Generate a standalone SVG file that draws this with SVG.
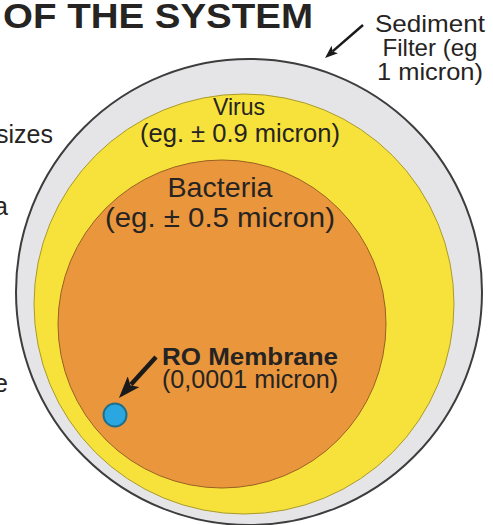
<svg xmlns="http://www.w3.org/2000/svg" width="493" height="525" viewBox="0 0 493 525">
<style>
text{font-family:"Liberation Sans",Arial,Helvetica,sans-serif;fill:#262422}
.t{font-size:25px}
.c{text-anchor:middle}
.e{text-anchor:end}
.b{font-weight:bold}
</style>
<defs>
<marker id="headBig" viewBox="0 0 22 16" refX="4" refY="8" markerWidth="22" markerHeight="16" markerUnits="userSpaceOnUse" orient="auto">
<path d="M0,0 L22,8 L0,16 L5,8 z" fill="#1a1a1a"/>
</marker>
<marker id="headSmall" viewBox="0 0 13 10" refX="3" refY="5" markerWidth="13" markerHeight="10" markerUnits="userSpaceOnUse" orient="auto">
<path d="M0,0 L13,5 L0,10 L3,5 z" fill="#1a1a1a"/>
</marker>
</defs>
<rect width="493" height="525" fill="#ffffff"/>
<g id="title">
<text x="3" y="28" class="b" font-size="35" textLength="310" lengthAdjust="spacingAndGlyphs">OF THE SYSTEM</text>
</g>
<g id="left-fragments">
<text x="53" y="143" class="t e" font-size="24">sizes</text>
<text x="8" y="215" class="t e">a</text>
<text x="8" y="392" class="t e">e</text>
</g>
<g id="sediment-filter">
<circle cx="249" cy="292" r="233" fill="#e5e5e7" stroke="#3d3d3d" stroke-width="2"/>
<text x="430" y="32" class="c" font-size="24" textLength="110" lengthAdjust="spacingAndGlyphs">Sediment</text>
<text x="430" y="56" class="c" font-size="24" textLength="95" lengthAdjust="spacingAndGlyphs">Filter (eg</text>
<text x="430" y="80" class="c" font-size="24" textLength="106" lengthAdjust="spacingAndGlyphs">1 micron)</text>
</g>
<g id="virus">
<circle cx="244" cy="304" r="210" fill="#f6e23b" stroke="#a99a2e" stroke-width="1"/>
<text x="239" y="115" class="c" font-size="24" textLength="52" lengthAdjust="spacingAndGlyphs">Virus</text>
<text x="240" y="142" class="c t" textLength="200" lengthAdjust="spacingAndGlyphs">(eg. ± 0.9 micron)</text>
</g>
<g id="bacteria">
<circle cx="222" cy="324" r="164" fill="#ea963d" stroke="#9a5f22" stroke-width="1"/>
<text x="220" y="197" class="c" font-size="28" textLength="105" lengthAdjust="spacingAndGlyphs">Bacteria</text>
<text x="220" y="227" class="c" font-size="28" textLength="230" lengthAdjust="spacingAndGlyphs">(eg. ± 0.5 micron)</text>
</g>
<g id="ro-membrane">
<circle cx="115" cy="415" r="11.5" fill="#2aa6e0" stroke="#1f6f8a" stroke-width="2"/>
<text x="162" y="365" class="b" font-size="24" textLength="176" lengthAdjust="spacingAndGlyphs">RO Membrane</text>
<text x="162" y="388" class="t" textLength="176" lengthAdjust="spacingAndGlyphs">(0,0001 micron)</text>
</g>
<g id="connectors" stroke="#1a1a1a" fill="none">
<line x1="156" y1="357" x2="131" y2="384.6" stroke-width="4.5" marker-end="url(#headBig)"/>
<line x1="363" y1="25" x2="332.6" y2="51.4" stroke-width="2.5" marker-end="url(#headSmall)"/>
</g>
</svg>
